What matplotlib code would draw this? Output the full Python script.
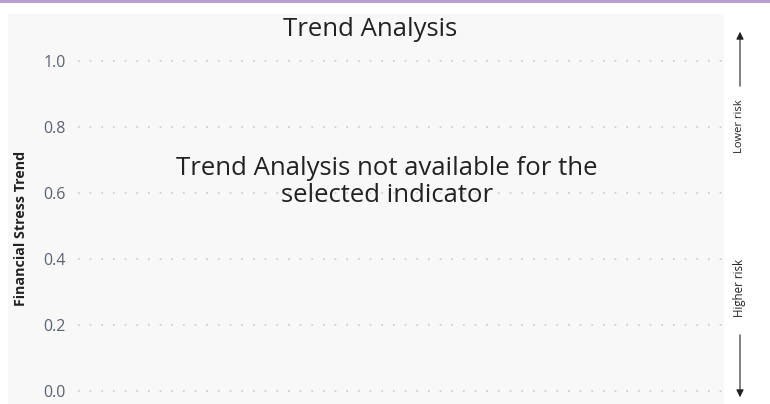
import matplotlib
matplotlib.use('Agg')
import matplotlib.pyplot as plt
from matplotlib.patches import Rectangle

plt.rcParams['font.family'] = ['Open Sans', 'DejaVu Sans']

# chart content
title = 'Trend Analysis'
message = 'Trend Analysis not available for the\nselected indicator'
y_label = 'Financial Stress Trend'
y_ticks = [0.0, 0.2, 0.4, 0.6, 0.8, 1.0]
y_tick_labels = ['0.0', '0.2', '0.4', '0.6', '0.8', '1.0']
top_note = 'Lower risk'
bottom_note = 'Higher risk'

W, H = 770, 404
fig = plt.figure(figsize=(W / 100, H / 100), dpi=100)
fig.patch.set_facecolor('white')

# purple strip at the top and grey panel
fig.patches.append(Rectangle((0, 1 - 3 / H), 1, 3 / H, transform=fig.transFigure,
                             facecolor='#b89fd0', edgecolor='none', zorder=-2))
fig.patches.append(Rectangle((8 / W, 0), (724 - 8) / W, (H - 14) / H, transform=fig.transFigure,
                             facecolor='#f8f8f8', edgecolor='none', zorder=-2))

ax = fig.add_axes([78 / W, (H - 391) / H, (722 - 78) / W, (391 - 61) / H])
ax.set_facecolor('none')
ax.set_ylim(0, 1)
ax.set_xlim(0, 1)
ax.set_yticks(y_ticks)
ax.set_yticklabels(y_tick_labels, fontsize=11.5, color='#5b6272')
ax.set_xticks([])
ax.tick_params(axis='y', length=0, pad=9)
for s in ax.spines.values():
    s.set_visible(False)
for y in y_ticks:
    ax.axhline(y, color='#c8c8c8', linestyle=(0, (1, 6)), linewidth=1.2, clip_on=False)

fig.text(370 / W, 1 - 29 / H, title, ha='center', va='center', fontsize=18.5, color='#222222')
ax.text(0.48, 0.632, message, transform=ax.transAxes, ha='center', va='center',
        fontsize=18.5, color='#222222', linespacing=1.1)
fig.text(21 / W, 1 - 228 / H, y_label, rotation=90, ha='center', va='center',
         fontsize=10.3, fontweight='bold', color='#222222')

# risk arrows on the right
ax_x = 740 / W
ax.annotate('', xy=(ax_x, 1 - 29 / H), xytext=(ax_x, 1 - 89 / H), xycoords='figure fraction',
            annotation_clip=False,
            arrowprops=dict(arrowstyle='-|>', color='#222222', lw=0.8, mutation_scale=11))
ax.annotate('', xy=(ax_x, 1 - 400 / H), xytext=(ax_x, 1 - 332 / H), xycoords='figure fraction',
            annotation_clip=False,
            arrowprops=dict(arrowstyle='-|>', color='#222222', lw=0.8, mutation_scale=11))
fig.text(ax_x, 1 - 126 / H, top_note, rotation=90, ha='center', va='center', fontsize=8, color='#222222')
fig.text(ax_x, 1 - 288 / H, bottom_note, rotation=90, ha='center', va='center', fontsize=8.3, color='#222222')

fig.savefig('out.png', dpi=100)
